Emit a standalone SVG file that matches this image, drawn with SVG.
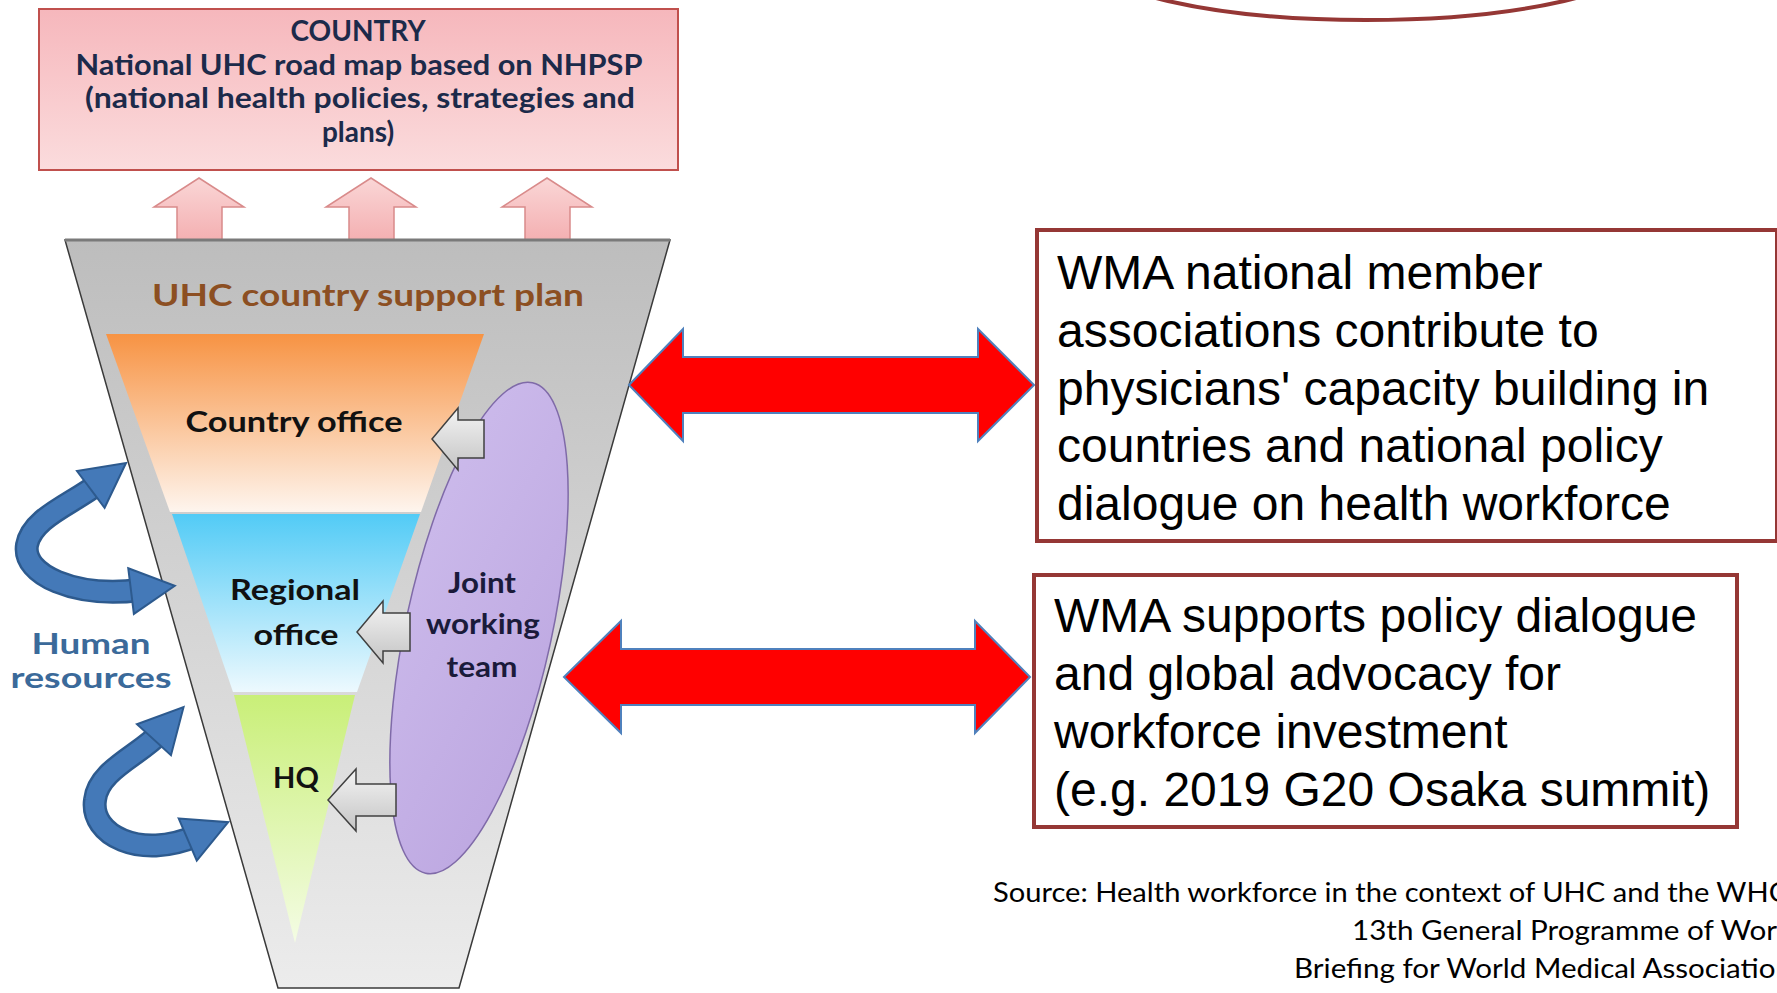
<svg xmlns="http://www.w3.org/2000/svg" width="1777" height="993" viewBox="0 0 1777 993">
<defs>
<style>
.cb{font-family:Lato,"Open Sans","Liberation Sans",sans-serif;font-weight:700;text-anchor:middle}
.wt{font-family:"Liberation Sans",Arial,sans-serif;font-size:48px;fill:#000}
.src{font-family:Lato,"Open Sans","Liberation Sans",sans-serif;font-size:27px;fill:#000}
.garrow{fill:url(#gGray);stroke:#404040;stroke-width:1.5}
.parrow{fill:url(#gPinkA);stroke:#d98b8b;stroke-width:1.5}
.rarrow{fill:#ff0000;stroke:#4f81bd;stroke-width:2}
.wbox{fill:#fff;stroke:#953735;stroke-width:4}
</style>
<linearGradient id="gPink" x1="0" y1="0" x2="0" y2="1"><stop offset="0" stop-color="#f6b7bc"/><stop offset="1" stop-color="#fbdcdd"/></linearGradient>
<linearGradient id="gPinkA" x1="0" y1="0" x2="0" y2="1"><stop offset="0" stop-color="#fad6d6"/><stop offset="1" stop-color="#f4b0b2"/></linearGradient>
<linearGradient id="gFun" x1="0" y1="0" x2="0" y2="1"><stop offset="0" stop-color="#bdbdbd"/><stop offset="1" stop-color="#ececec"/></linearGradient>
<linearGradient id="gOr" x1="0" y1="0" x2="0" y2="1"><stop offset="0" stop-color="#f79343"/><stop offset="1" stop-color="#fef5ee"/></linearGradient>
<linearGradient id="gBl" x1="0" y1="0" x2="0" y2="1"><stop offset="0" stop-color="#52cbf6"/><stop offset="1" stop-color="#edf9fe"/></linearGradient>
<linearGradient id="gGr" x1="0" y1="0" x2="0" y2="1"><stop offset="0" stop-color="#c9ef78"/><stop offset="1" stop-color="#f4fce4"/></linearGradient>
<linearGradient id="gPu" x1="0" y1="0" x2="1" y2="1"><stop offset="0" stop-color="#cdbcec"/><stop offset="1" stop-color="#bca6e0"/></linearGradient>
<linearGradient id="gGray" x1="0" y1="0" x2="0" y2="1"><stop offset="0" stop-color="#f4f4f4"/><stop offset="1" stop-color="#c4c4c4"/></linearGradient>
<marker id="bh" markerUnits="userSpaceOnUse" markerWidth="48" markerHeight="52" viewBox="0 0 48 52" refX="11" refY="26" orient="auto-start-reverse">
<path d="M2,3 L46,26 L2,49 Z" fill="#4479b8" stroke="#2d5a8e" stroke-width="2"/>
</marker>
</defs>
<rect width="1777" height="993" fill="#fff"/>

<g id="top-ellipse">
<ellipse cx="1366" cy="-45" rx="280" ry="65" fill="none" stroke="#953735" stroke-width="4"/>
</g>

<g id="country">
<rect x="39" y="9" width="639" height="161" fill="url(#gPink)" stroke="#c0504d" stroke-width="2"/>
<text class="cb" x="358" y="41" font-size="28" fill="#1c2a4a">COUNTRY</text>
<text class="cb" x="359" y="75" font-size="28" fill="#1c2a4a" textLength="567" lengthAdjust="spacingAndGlyphs">National UHC road map based on NHPSP</text>
<text class="cb" x="360" y="108" font-size="28" fill="#1c2a4a" textLength="550" lengthAdjust="spacingAndGlyphs">(national health policies, strategies and</text>
<text class="cb" x="358" y="142" font-size="28" fill="#1c2a4a">plans)</text>
</g>

<g id="up-arrows">
<polygon class="parrow" points="199,178 244,207 222,207 222,240 177,240 177,207 154,207"/>
<polygon class="parrow" points="371,178 416,207 394,207 394,240 349,240 349,207 326,207"/>
<polygon class="parrow" points="547,178 592,207 570,207 570,240 525,240 525,207 502,207"/>
</g>

<g id="funnel">
<polygon points="65,240 670,240 459,988 278,988" fill="url(#gFun)" stroke="#3a3a3a" stroke-width="1.5"/>
<line x1="65" y1="240" x2="670" y2="240" stroke="#7a7a7a" stroke-width="3"/>
<text class="cb" x="368" y="306" font-size="31" fill="#8c4f22" textLength="432" lengthAdjust="spacingAndGlyphs">UHC country support plan</text>
</g>

<g id="country-office">
<polygon points="106,334 484,334 421,512 170,512" fill="url(#gOr)"/>
<text class="cb" x="294" y="432" font-size="29" fill="#111" textLength="217" lengthAdjust="spacingAndGlyphs">Country office</text>
</g>

<g id="regional-office">
<polygon points="172,514 420,514 357,692 233,692" fill="url(#gBl)"/>
<text class="cb" x="295" y="600" font-size="29" fill="#111" textLength="130" lengthAdjust="spacingAndGlyphs">Regional</text>
<text class="cb" x="296" y="645" font-size="29" fill="#111" textLength="85" lengthAdjust="spacingAndGlyphs">office</text>
</g>

<g id="hq">
<polygon points="234,695 355,695 295,943" fill="url(#gGr)"/>
<text class="cb" x="296" y="788" font-size="29" fill="#111">HQ</text>
</g>

<g id="joint-working-team">
<ellipse cx="479" cy="628" rx="73" ry="251" transform="rotate(12.3 479 628)" fill="url(#gPu)" stroke="#7f6aa8" stroke-width="1.5"/>
<text class="cb" x="482" y="593" font-size="29" fill="#1a1a3a" textLength="68" lengthAdjust="spacingAndGlyphs">Joint</text>
<text class="cb" x="483" y="634" font-size="29" fill="#1a1a3a" textLength="114" lengthAdjust="spacingAndGlyphs">working</text>
<text class="cb" x="482" y="677" font-size="29" fill="#1a1a3a" textLength="71" lengthAdjust="spacingAndGlyphs">team</text>
</g>

<g id="human-resources">
<text class="cb" x="91" y="654" font-size="29" fill="#3b6a9a" textLength="119" lengthAdjust="spacingAndGlyphs">Human</text>
<text class="cb" x="91" y="688" font-size="29" fill="#3b6a9a" textLength="161" lengthAdjust="spacingAndGlyphs">resources</text>
</g>

<g id="connectors">
<polygon class="garrow" points="432,439 458,408 458,420 484,420 484,458 458,458 458,470"/>
<polygon class="garrow" points="357,632 383,601 383,613 410,613 410,651 383,651 383,663"/>
<polygon class="garrow" points="328,800 356,769 356,784 396,784 396,816 356,816 356,831"/>
<path d="M140,590 C75,598 22,575 27,545 C32,518 70,505 98,484" fill="none" stroke="#2d5a8e" stroke-width="24"/>
<path d="M140,590 C75,598 22,575 27,545 C32,518 70,505 98,484" fill="none" stroke="#4479b8" stroke-width="19" marker-start="url(#bh)" marker-end="url(#bh)"/>
<path d="M196,836 C140,860 90,835 95,800 C98,770 140,755 160,733" fill="none" stroke="#2d5a8e" stroke-width="24"/>
<path d="M196,836 C140,860 90,835 95,800 C98,770 140,755 160,733" fill="none" stroke="#4479b8" stroke-width="19" marker-start="url(#bh)" marker-end="url(#bh)"/>
<polygon class="rarrow" points="629,385 683,329 683,357 978,357 978,329 1034,385 978,441 978,413 683,413 683,441"/>
<polygon class="rarrow" points="564,677 621,621 621,649 975,649 975,621 1030,677 975,733 975,705 621,705 621,733"/>
</g>

<g id="box-members">
<rect class="wbox" x="1037" y="230" width="740" height="311"/>
<text class="wt" x="1057" y="289">WMA national member</text>
<text class="wt" x="1057" y="347">associations contribute to</text>
<text class="wt" x="1057" y="405">physicians' capacity building in</text>
<text class="wt" x="1057" y="462">countries and national policy</text>
<text class="wt" x="1057" y="520">dialogue on health workforce</text>
</g>

<g id="box-advocacy">
<rect class="wbox" x="1034" y="575" width="703" height="252"/>
<text class="wt" x="1054" y="632">WMA supports policy dialogue</text>
<text class="wt" x="1054" y="690">and global advocacy for</text>
<text class="wt" x="1054" y="748">workforce investment</text>
<text class="wt" x="1054" y="806">(e.g. 2019 G20 Osaka summit)</text>
</g>

<g id="source">
<text class="src" x="993" y="902" textLength="799" lengthAdjust="spacingAndGlyphs">Source: Health workforce in the context of UHC and the WHO</text>
<text class="src" x="1352" y="940" textLength="440" lengthAdjust="spacingAndGlyphs">13th General Programme of Work</text>
<text class="src" x="1294" y="978" textLength="498" lengthAdjust="spacingAndGlyphs">Briefing for World Medical Association</text>
</g>
</svg>
